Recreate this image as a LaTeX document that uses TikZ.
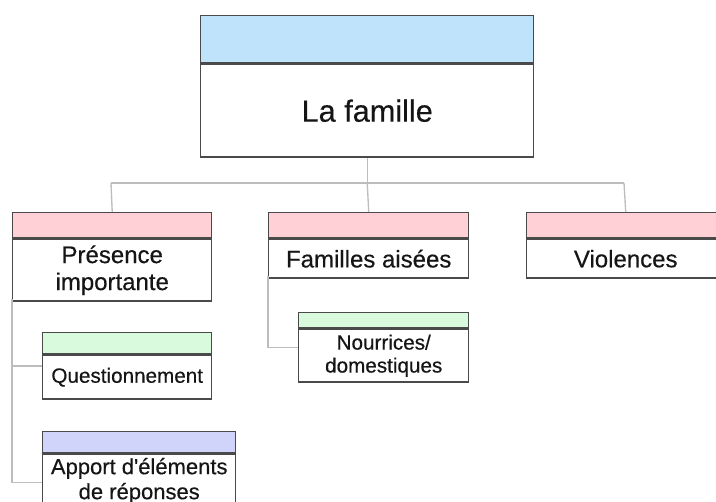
\documentclass[tikz,border=0pt]{standalone}
\usepackage{fontspec}
\usetikzlibrary{calc}
\setmainfont[FakeBold=0.4]{Liberation Sans}
\newfontfamily\plainfont[FakeBold=0.4]{Liberation Sans}
\definecolor{hblue}{HTML}{BEE3FB}
\definecolor{hpink}{HTML}{FFD1D6}
\definecolor{hgreen}{HTML}{D9FADC}
\definecolor{hpurple}{HTML}{D0D3FA}
\definecolor{bord}{HTML}{4A4A4A}
\definecolor{connc}{HTML}{BDBDBD}
\definecolor{txt}{HTML}{151515}
\tikzset{
  hdr/.style={draw=bord, line width=1.1pt, rectangle, inner sep=0pt, anchor=north west},
  body/.style={draw=bord, line width=1.1pt, rectangle, fill=white, inner sep=0pt, anchor=north, align=center, text=txt},
  conn/.style={draw=connc, line width=1pt},
  tfont/.style={font=\fontsize{23}{27}\selectfont},
  mfont/.style={font=\fontsize{18}{20.25}\selectfont},
  sfont/.style={font=\fontsize{15.5}{17.25}\selectfont},
  afont/.style={font=\fontsize{16.5}{18.75}\selectfont\plainfont},
}
\begin{document}
\begin{tikzpicture}[x=0.75pt,y=-0.75pt]
\path[use as bounding box, clip] (0,0) rectangle (716,501);
\fill[white] (0,0) rectangle (716,501);
\coordinate (busL) at (111,183);
\coordinate (busR) at (624,183);
\coordinate (presL) at (12,299);
\coordinate (famL) at (268,276);
% top
\node[hdr, fill=hblue, minimum width=249.75pt, minimum height=35.25pt] (hTop) at (200,15) {};
\node[body, tfont, minimum width=249.75pt, minimum height=69.75pt] (bTop) at (hTop.south) {La famille};
% level 1
\node[hdr, fill=hpink, minimum width=149.25pt, minimum height=18.75pt] (hPres) at (12,212) {};
\node[body, mfont, minimum width=149.25pt, minimum height=46.5pt] (bPres) at (hPres.south) {Présence\\importante};
\node[hdr, fill=hpink, minimum width=150pt, minimum height=18.75pt] (hFam) at (268,212) {};
\node[body, mfont, minimum width=150pt, minimum height=29.25pt] (bFam) at (hFam.south) {Familles aisées};
\node[hdr, fill=hpink, minimum width=148.5pt, minimum height=18.75pt] (hViol) at (526,212) {};
\node[body, mfont, minimum width=148.5pt, minimum height=29.25pt] (bViol) at (hViol.south) {Violences};
% level 2
\node[hdr, fill=hgreen, minimum width=126.75pt, minimum height=15.75pt] (hQues) at (42,332) {};
\node[body, sfont, minimum width=126.75pt, minimum height=33pt] (bQues) at (hQues.south) {Questionnement};
\node[hdr, fill=hpurple, minimum width=144.75pt, minimum height=15.75pt] (hApp) at (42,431) {};
\node[body, afont, minimum width=144.75pt, minimum height=40pt] (bApp) at (hApp.south) {Apport d'éléments\\de réponses};
\node[hdr, fill=hgreen, minimum width=127.5pt, minimum height=11.25pt] (hNour) at (298,312) {};
\node[body, sfont, minimum width=127.5pt, minimum height=39.75pt] (bNour) at (hNour.south) {Nourrices/\\domestiques};
% connector lines
\draw[conn] (bTop.south) -- (bTop.south |- busL);
\draw[conn] (busL) -- (busR);
\draw[conn] (busL) -- (hPres.north);
\draw[conn] (bTop.south |- busL) -- (hFam.north);
\draw[conn] (busR) -- (hViol.north);
\draw[conn] (presL) |- ($(hQues.north west)!0.5!(bQues.south west)$);
\draw[conn] (presL) |- ([yshift=-1pt]bApp.west);
\draw[conn] (famL) |- ($(hNour.north west)!0.5!(bNour.south west)$);
\end{tikzpicture}
\end{document}
